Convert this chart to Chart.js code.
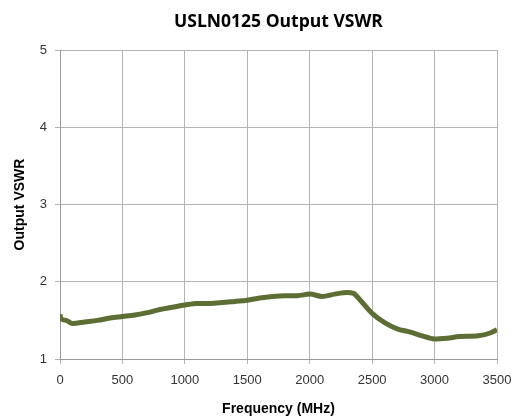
<!DOCTYPE html>
<html>
<head>
<meta charset="utf-8">
<script src="https://cdn.jsdelivr.net/npm/chart.js@4/dist/chart.umd.min.js"></script>
<style>
  html, body { margin: 0; padding: 0; background: #fff; }
  #wrap { width: 522px; height: 418px; }
</style>
</head>
<body>
<div id="wrap"><canvas id="vswr"></canvas></div>
<script>
// data
let freqs = [0, 2, 10, 50, 100, 200, 300, 400, 500, 600, 700, 800, 900, 1000, 1100, 1200, 1300, 1400, 1500, 1600, 1700, 1800, 1900, 2000, 2100, 2200, 2300, 2350, 2400, 2500, 2600, 2700, 2800, 2900, 3000, 3100, 3200, 3350, 3450, 3500];
let vswr  = [1.58, 1.55, 1.52, 1.50, 1.46, 1.48, 1.50, 1.53, 1.55, 1.57, 1.60, 1.64, 1.67, 1.70, 1.72, 1.72, 1.73, 1.745, 1.76, 1.79, 1.81, 1.82, 1.82, 1.84, 1.81, 1.84, 1.86, 1.85, 1.77, 1.59, 1.47, 1.39, 1.35, 1.30, 1.26, 1.27, 1.29, 1.30, 1.34, 1.38];
let xTicks = [0, 500, 1000, 1500, 2000, 2500, 3000, 3500];
let yTicks = [1, 2, 3, 4, 5];
let chartTitle = 'USLN0125 Output VSWR';

let points = freqs.map((f, i) => ({ x: f, y: vswr[i] }));

// title centred over the plot area, like the original
let plotTitle = {
    id: 'plotTitle',
    afterDraw(chart) {
        let c = chart.ctx;
        let area = chart.chartArea;
        c.save();
        c.fillStyle = '#000';
        c.font = 'bold 17.5px "Open Sans", sans-serif';
        c.textAlign = 'center';
        c.textBaseline = 'middle';
        c.fillText(chartTitle, (area.left + area.right) / 2, 22);
        c.restore();
    }
};

let ctx = document.querySelector('#vswr').getContext('2d');

let vswrChart = new Chart(ctx, {
    type: 'line',
    data: {
        datasets: [{
            data: points,
            borderColor: '#5d6e35',
            borderWidth: 5,
            pointRadius: 0,
            tension: 0.4,
            cubicInterpolationMode: 'monotone',
            fill: false
        }]
    },
    options: {
        responsive: true,
        maintainAspectRatio: false,
        animation: false,
        layout: {
            padding: { left: 0, right: 25, top: 50, bottom: 0 }
        },
        plugins: {
            legend: { display: false },
            tooltip: { enabled: false },
            title: { display: false }
        },
        scales: {
            x: {
                type: 'linear',
                min: 0,
                max: 3500,
                afterBuildTicks: (scale) => { scale.ticks = xTicks.map(v => ({ value: v })); },
                afterFit: (scale) => { scale.height = 59; },
                ticks: {
                    color: '#333',
                    padding: 9,
                    maxRotation: 0,
                    callback: (v) => String(v),
                    font: { size: 13, family: '"Liberation Sans", Arial, sans-serif' }
                },
                grid: { color: '#b4b4b4', tickLength: 5, lineWidth: 1 },
                border: { color: '#9a9a9a' },
                title: {
                    display: true,
                    text: 'Frequency (MHz)',
                    color: '#000',
                    font: { size: 14, weight: 'bold', family: '"Liberation Sans", Arial, sans-serif' },
                    padding: { top: 4, bottom: 0 }
                }
            },
            y: {
                type: 'linear',
                min: 1,
                max: 5,
                afterBuildTicks: (scale) => { scale.ticks = yTicks.map(v => ({ value: v })); },
                afterFit: (scale) => { scale.width = 60; },
                ticks: {
                    color: '#333',
                    padding: 8,
                    callback: (v) => String(v),
                    font: { size: 13, family: '"Liberation Sans", Arial, sans-serif' }
                },
                grid: { color: '#b4b4b4', tickLength: 5, lineWidth: 1 },
                border: { color: '#9a9a9a' },
                title: {
                    display: true,
                    text: 'Output VSWR',
                    color: '#000',
                    font: { size: 14, weight: 'bold', family: '"Liberation Sans", Arial, sans-serif' },
                    padding: { top: 12, bottom: 4 }
                }
            }
        }
    },
    plugins: [plotTitle]
});
</script>
</body>
</html>
